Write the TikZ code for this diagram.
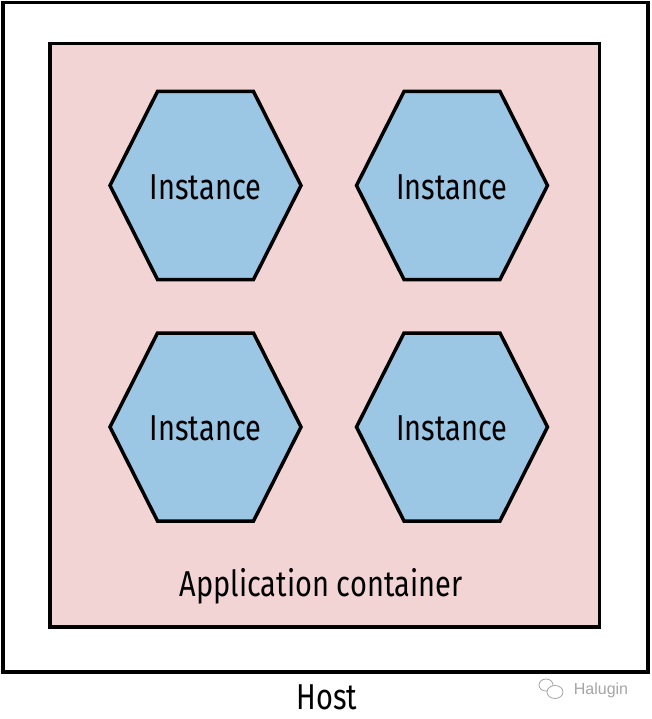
\documentclass[tikz,border=0pt]{standalone}
\usepackage{fontspec}
\setmainfont{Fira Sans}[FakeStretch=0.805]
\newfontfamily\wmfont{Liberation Sans}
\definecolor{pinkfill}{RGB}{242,212,213}
\definecolor{bluefill}{RGB}{155,198,228}
\definecolor{wmgray}{RGB}{165,165,165}
\newcommand{\hexa}[3]{%
  \draw[hexline] (#2-95.5,#3) -- (#2-48,#3-94) -- (#2+48,#3-94) -- (#2+95.5,#3) -- (#2+48,#3+94) -- (#2-48,#3+94) -- cycle;
  \node[lbl] (#1) at (#2,#3+1.5) {Instance};}
\begin{document}
\begin{tikzpicture}[x=1pt,y=-1pt,
  box/.style={draw=black,line width=3.5pt},
  hexline/.style={draw=black,line width=3.5pt,fill=bluefill,line join=miter},
  lbl/.style={inner sep=0pt,font=\fontsize{36}{40}\selectfont},
  wmline/.style={draw=wmgray,line width=0.8pt}]
\useasboundingbox (0,0) rectangle (651,719);
\node[box,minimum width=645pt,minimum height=669.5pt,inner sep=0pt] (host) at (325.25,337.25) {};
\node[box,fill=pinkfill,minimum width=549.5pt,minimum height=583.5pt,inner sep=0pt] (app) at (324.75,335.25) {};
\hexa{i1}{205.5}{185.5}
\hexa{i2}{452}{185.5}
\hexa{i3}{205.5}{427}
\hexa{i4}{452}{427}
\node[lbl] (applbl) at (321,586) {Application container};
\node[lbl] (hostlbl) at (327,697) {Host};
\node[inner sep=0pt,text=wmgray,font=\wmfont\fontsize{16}{18}\selectfont] (wm) at (601,690) {Halugin};
\draw[wmline] (546,685) ellipse [x radius=7pt,y radius=6pt];
\draw[wmline,fill=white] (555,692) ellipse [x radius=8pt,y radius=6.5pt];
\end{tikzpicture}
\end{document}
